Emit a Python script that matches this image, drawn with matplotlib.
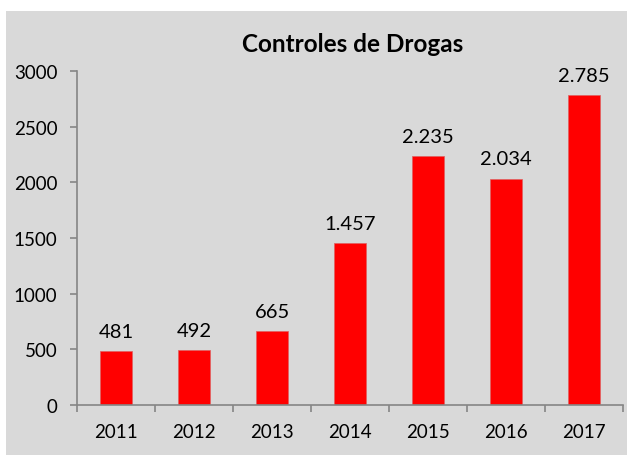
import numpy as np
import matplotlib.pyplot as plt
from matplotlib.patches import Rectangle

years = ['2011', '2012', '2013', '2014', '2015', '2016', '2017']
controles = [481, 492, 665, 1457, 2235, 2034, 2785]
value_labels = ['481', '492', '665', '1.457', '2.235', '2.034', '2.785']

plt.rcParams['font.family'] = ['Lato', 'DejaVu Sans']

fig = plt.figure(figsize=(6.27, 4.56), dpi=100)
fig.patch.set_facecolor('white')
# grey chart area with white margin top/left
fig.patches.append(Rectangle((6 / 627, 0), 1, 1 - 12 / 456, transform=fig.transFigure,
                             facecolor='#d9d9d9', edgecolor='none', zorder=-10))

ax = fig.add_axes([77 / 627, 1 - 406 / 456, 546 / 627, (406 - 72) / 456])
ax.set_facecolor('none')

x = np.arange(len(years))
ax.bar(x, controles, width=0.4, color='#ff0000', edgecolor='#e06060', linewidth=0.5)

for xi, v, lab in zip(x, controles, value_labels):
    ax.text(xi, v + 100, lab, ha='center', va='bottom', fontsize=14.5, color='black')

ax.set_xlim(-0.5, len(years) - 0.5)
ax.set_ylim(0, 3000)
ax.set_yticks(np.arange(0, 3001, 500))
ax.set_xticks(x)
ax.set_xticklabels(years)
ax.set_xticks(np.arange(-0.5, len(years)), minor=True)

for s in ['top', 'right']:
    ax.spines[s].set_visible(False)
for s in ['left', 'bottom']:
    ax.spines[s].set_color('#868686')
    ax.spines[s].set_linewidth(1.2)

ax.tick_params(axis='y', length=5, color='#868686', width=1.2, labelsize=13.5, pad=9)
ax.tick_params(axis='x', which='major', length=0, labelsize=13.5, pad=13)
ax.tick_params(axis='x', which='minor', length=5, color='#868686', width=1.2)

fig.text(353 / 627, 1 - 44 / 456, 'Controles de Drogas', ha='center', va='center',
         fontsize=17.5, fontweight='bold')

fig.savefig('out.png', dpi=100)
